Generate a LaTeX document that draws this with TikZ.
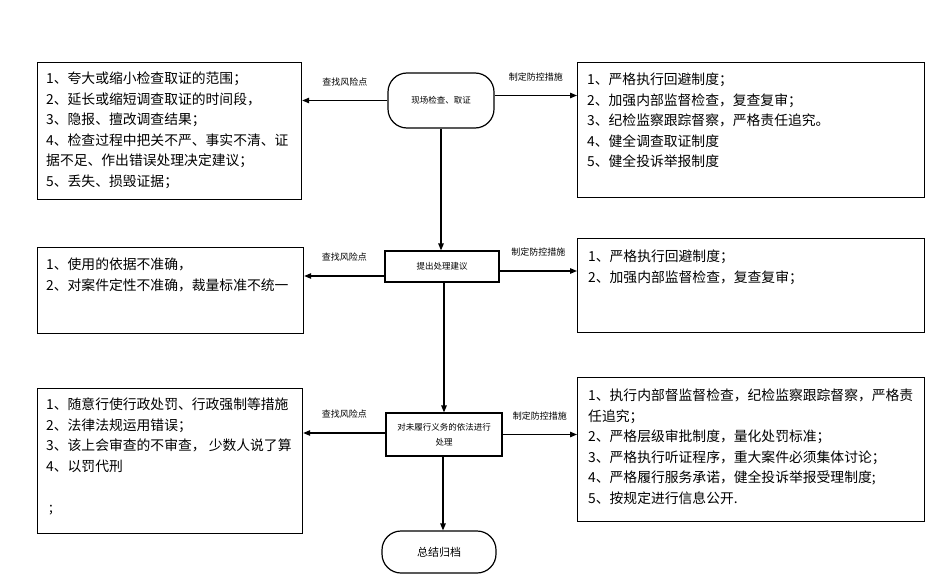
\documentclass[tikz,border=0pt]{standalone}
\usepackage{fontspec}
\setmainfont{Noto Sans CJK SC}
\usetikzlibrary{arrows.meta, positioning}

\tikzset{
    box/.style={draw, line width=1.2pt, anchor=north west, inner sep=0pt},
    list/.style={anchor=north west, inner sep=0pt, align=left,
        font=\fontsize{13.8}{20.6}\selectfont},
    stage/.style={draw, line width=1.2pt, inner sep=0pt, align=center,
        font=\fontsize{8.5}{15}\selectfont},
    term/.style={stage, rounded corners=19pt},
    tag/.style={above=14pt, inner sep=0pt, font=\fontsize{9}{9}\selectfont},
    arr/.style={line width=1.2pt, arrows={-{Triangle[length=7pt, width=5.5pt]}}},
}

\begin{document}
\begin{tikzpicture}[x=1pt, y=-1pt]
    \useasboundingbox (0, 0) rectangle (931, 575);
    % stages in the middle
    \node [term, minimum width=106pt, minimum height=55pt] (check) at (441, 100.5) {现场检查、取证};
    \node [stage, minimum width=114pt, minimum height=31pt] (propose) at (442, 266.5) {提出处理建议};
    \node [stage, minimum width=116pt, minimum height=43pt] (handle) at (444, 434.5) {对未履行义务的依法进行\\处理};
    \node [term, minimum width=114pt, minimum height=42pt, font=\fontsize{11}{11}\selectfont] (archive) at (439, 552) {总结归档};
    % risk points, left
    \node [box, minimum width=264pt, minimum height=137pt] (risk1) at (37, 62) {};
    \node [list] (risk1txt) at (46, 71.7) {1、夸大或缩小检查取证的范围；\\
        2、延长或缩短调查取证的时间段，\\
        3、隐报、擅改调查结果；\\
        4、检查过程中把关不严、事实不清、证\\
        据不足、作出错误处理决定建议；\\
        5、丢失、损毁证据；};
    \node [box, minimum width=266pt, minimum height=86pt] (risk2) at (37, 247) {};
    \node [list] (risk2txt) at (46, 257.7) {1、使用的依据不准确，\\
        2、对案件定性不准确，裁量标准不统一};
    \node [box, minimum width=265pt, minimum height=145pt] (risk3) at (37, 388) {};
    \node [list] (risk3txt) at (46, 397.7) {1、随意行使行政处罚、行政强制等措施\\
        2、法律法规运用错误；\\
        3、该上会审查的不审查， 少数人说了算\\
        4、以罚代刑\\
        \mbox{}\\
        \hspace{3pt};};
    % control measures, right
    \node [box, minimum width=347pt, minimum height=135pt] (ctrl1) at (577, 62) {};
    \node [list] (ctrl1txt) at (587, 72.7) {1、严格执行回避制度；\\
        2、加强内部监督检查，复查复审；\\
        3、纪检监察跟踪督察，严格责任追究。\\
        4、健全调查取证制度\\
        5、健全投诉举报制度};
    \node [box, minimum width=347pt, minimum height=94pt] (ctrl2) at (577, 238) {};
    \node [list] (ctrl2txt) at (588, 249.7) {1、严格执行回避制度；\\
        2、加强内部监督检查，复查复审；};
    \node [box, minimum width=347pt, minimum height=144pt] (ctrl3) at (577, 377) {};
    \node [list] (ctrl3txt) at (588, 388.7) {1、执行内部督监督检查，纪检监察跟踪督察，严格责\\
        任追究；\\
        2、严格层级审批制度，量化处罚标准；\\
        3、严格执行听证程序，重大案件必须集体讨论；\\
        4、严格履行服务承诺，健全投诉举报受理制度;\\
        5、按规定进行信息公开.};
    % connectors
    \draw [arr] (check.west) -- node [tag] {查找风险点} (check.west -| risk1.east);
    \draw [arr] ([yshift=5pt]check.east) -- node [tag] {制定防控措施} ([yshift=5pt]check.east -| ctrl1.west);
    \draw [arr] ([yshift=-9.5pt]propose.west) -- node [tag] {查找风险点} ([yshift=-9.5pt]propose.west -| risk2.east);
    \draw [arr] ([yshift=-4.5pt]propose.east) -- node [tag] {制定防控措施} ([yshift=-4.5pt]propose.east -| ctrl2.west);
    \draw [arr] ([yshift=1.5pt]handle.west) -- node [tag] {查找风险点} ([yshift=1.5pt]handle.west -| risk3.east);
    \draw [arr] (handle.east) -- node [tag] {制定防控措施} (handle.east -| ctrl3.west);
    \draw [arr] (check.south) -- (check.south |- propose.north);
    \draw [arr] (propose.south -| handle.north) -- (handle.north);
    \draw [arr] ([xshift=-1pt]handle.south) -- ([xshift=-1pt]handle.south |- archive.north);
\end{tikzpicture}
\end{document}
